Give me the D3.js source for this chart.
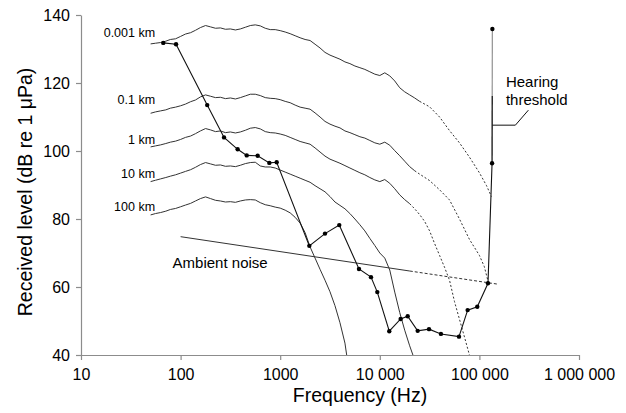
<!DOCTYPE html>
<html>
<head>
<meta charset="utf-8">
<script src="https://cdn.jsdelivr.net/npm/d3@7"></script>
<style>
  body { margin: 0; background: #fff; }
  svg { display: block; font-family: Arial, "Liberation Sans", sans-serif; }
</style>
</head>
<body>
<svg id="chart"></svg>
<script>
// ---- data ----
const yTicks = [40, 60, 80, 100, 120, 140];
const xTicks = [10, 100, 1000, 10000, 100000, 1000000];
const xTickLabels = ["10", "100", "1000", "10 000", "100 000", "1 000 000"];

// common frequency grid for the measured spectra (Hz)
const specFreq = [50, 56, 63, 71, 79, 89, 100, 112, 126, 141, 158, 178, 200, 224, 251, 282, 316, 355, 398, 447,
  501, 562, 631, 708, 794, 891, 1000, 1122, 1259, 1413, 1585, 1778, 1995, 2239, 2512, 2818, 3162, 3548, 3981, 4467,
  5012, 5623, 6310, 7079, 7943, 8913, 10000, 11220, 12589, 14125, 15849, 17783, 19953, 22387, 25119];

const seriesNames = ["0.001 km", "0.1 km", "1 km", "10 km", "100 km"];

const level0001 = [131.5, 131.7, 131.9, 132.3, 132.8, 133.0, 133.7, 134.4, 134.8, 135.5, 136.3, 136.9, 136.5, 136.1, 136.2, 135.8, 135.9, 135.6, 135.9, 136.4,
  136.9, 137.1, 136.8, 136.1, 135.7, 135.7, 135.4, 135.0, 134.5, 133.9, 133.3, 132.8, 132.5, 131.4, 130.3, 129.0, 128.2, 127.6, 127.0, 126.2,
  125.7, 125.0, 124.5, 124.0, 123.3, 122.6, 122.2, 123.0, 122.1, 120.6, 118.6, 117.4, 116.5, 115.6, 114.6];
const tailFreq0001 = [25119, 31623, 39811, 50119, 63096, 79433, 100000, 118000, 132000];
const tailLevel0001 = [114.6, 113.0, 110.0, 106.0, 102.4, 98.2, 93.6, 89.8, 86.6];

const level01 = [111.1, 111.5, 111.8, 112.1, 112.6, 112.9, 113.3, 113.8, 114.5, 115.0, 115.9, 116.5, 116.1, 115.7, 115.8, 115.4, 115.6, 115.3, 115.7, 116.2,
  116.7, 116.7, 116.3, 115.7, 115.5, 115.4, 115.1, 114.6, 114.2, 113.5, 112.9, 112.6, 112.3, 111.2, 110.0, 108.7, 107.9, 107.3, 106.8, 105.9,
  105.4, 104.8, 104.2, 103.8, 103.1, 102.4, 102.0, 102.6, 101.7, 100.1, 98.6, 97.0, 95.4, 94.2];
const tailFreq01 = [22387, 25119, 31623, 39811, 50119, 63096, 79433, 100000, 112000, 122800];
const tailLevel01 = [94.2, 93.2, 91.3, 88.6, 85.6, 80.0, 74.0, 69.3, 66.0, 61.4];

const level1 = [101.2, 101.5, 101.8, 102.2, 102.6, 102.9, 103.4, 104.0, 104.4, 105.1, 105.9, 106.6, 106.2, 105.7, 105.9, 105.4, 105.6, 105.3, 105.6, 106.1,
  106.7, 106.9, 106.5, 105.7, 105.4, 105.3, 105.0, 104.6, 104.0, 103.4, 102.8, 102.4, 102.0, 100.9, 99.7, 98.5, 97.6, 97.0, 96.4, 95.7,
  95.0, 94.3, 93.6, 93.0, 92.2, 91.5, 91.0, 91.6, 90.5, 88.9, 87.1, 85.7, 84.5];
const tailFreq1 = [19953, 22387, 25119, 28184, 31623, 35481, 39811, 44668, 50119, 56234, 63096, 70795, 79433];
const tailLevel1 = [84.5, 83.0, 81.3, 79.3, 76.5, 72.8, 69.3, 65.8, 62.0, 55.7, 50.5, 45.3, 40.0];

const level10 = [91.0, 91.4, 91.8, 92.2, 92.6, 93.0, 93.5, 94.0, 94.5, 95.2, 96.0, 96.6, 96.2, 95.8, 95.9, 95.5, 95.6, 95.4, 95.8, 96.3,
  96.6, 96.7, 95.6, 95.3, 95.3, 95.0, 94.4, 93.8, 93.2, 92.6, 92.0, 91.4, 90.8, 89.8, 88.9, 88.0, 86.6, 85.0, 84.0, 83.0,
  81.6, 80.0, 78.3, 76.5, 74.3, 72.2, 70.0, 68.5, 65.0, 58.5, 52.5, 47.3, 42.7];
const tailFreq10 = [19953, 21500];
const tailLevel10 = [42.7, 40.0];

const level100 = [81.2, 81.6, 81.9, 82.3, 82.8, 83.1, 83.6, 84.1, 84.6, 85.3, 86.0, 86.5, 86.0, 85.5, 85.3, 85.0, 85.1, 84.9, 85.3, 85.6,
  85.7, 85.6, 84.8, 84.2, 83.9, 83.5, 83.2, 82.6, 81.8, 80.5, 78.8, 76.0, 71.8, 68.5, 65.2, 62.0, 58.6, 54.5, 49.5, 43.5];
const tailFreq100 = [4467, 4650];
const tailLevel100 = [43.5, 40.0];

// hearing threshold (audiogram)
const thrFreq = [67, 90, 185, 273, 374, 461, 594, 778, 922, 1960, 2818, 3918, 6180, 8160, 9440, 12450, 16200, 19050,
  24000, 31200, 41100, 62400, 76200, 95200, 122000, 134000, 135000];
const thrLevel = [131.8, 131.4, 113.5, 104.0, 100.5, 98.7, 98.6, 96.5, 96.7, 72.1, 75.7, 78.2, 65.3, 62.9, 58.5, 47.0, 50.6, 51.4,
  47.1, 47.6, 46.2, 45.4, 53.2, 54.2, 61.1, 96.4, 135.9];

// ambient noise
const ambientFreq = [100, 20000, 156000];
const ambientLevel = [74.8, 64.7, 60.8];

// ---- chart ----
const width = 626;
const height = 413;
const margin = {top: 15, right: 47, bottom: 58, left: 81};
const font = "Arial, 'Liberation Sans', sans-serif";

const svg = d3.select("#chart")
    .attr("width", width)
    .attr("height", height);

const x = d3.scaleLog()
    .domain([10, 1000000])
    .range([margin.left, width - margin.right]);
const y = d3.scaleLinear()
    .domain([40, 140])
    .range([height - margin.bottom, margin.top]);

const axisColor = "#8c8c8c";

const axis_y = svg.append("g")
    .attr("transform", `translate(${margin.left},0)`)
    .call(d3.axisLeft(y).tickValues(yTicks).tickSize(5).tickPadding(6).tickSizeOuter(0))
    .attr("font-family", font)
    .attr("font-size", 16);
axis_y.select(".domain").attr("stroke", axisColor).attr("stroke-width", 1.2);
axis_y.selectAll(".tick line").attr("stroke", axisColor).attr("stroke-width", 1.2);
axis_y.selectAll(".tick text").attr("fill", "#000");

const axis_x = svg.append("g")
    .attr("transform", `translate(0,${height - margin.bottom})`)
    .call(d3.axisBottom(x).tickValues(xTicks).tickFormat((d, i) => xTickLabels[i])
        .tickSize(5).tickPadding(9).tickSizeOuter(0))
    .attr("font-family", font)
    .attr("font-size", 16);
axis_x.select(".domain").attr("stroke", axisColor).attr("stroke-width", 1.2);
axis_x.selectAll(".tick line").attr("stroke", axisColor).attr("stroke-width", 1.2);
axis_x.selectAll(".tick text").attr("fill", "#000");

svg.append("text")
    .attr("x", (x(10) + x(1000000)) / 2 + 30)
    .attr("y", 402)
    .attr("text-anchor", "middle")
    .attr("font-family", font)
    .attr("font-size", 19.5)
    .text("Frequency (Hz)");

svg.append("text")
    .attr("transform", "translate(32,192) rotate(-90)")
    .attr("text-anchor", "middle")
    .attr("font-family", font)
    .attr("font-size", 19.5)
    .text("Received level (dB re 1 μPa)");

// spectra
const line = d3.line()
    .x(d => x(d[0]))
    .y(d => y(d[1]));

const series = [
  {name: seriesNames[0], level: level0001, tf: tailFreq0001, tl: tailLevel0001, dotted: true},
  {name: seriesNames[1], level: level01, tf: tailFreq01, tl: tailLevel01, dotted: true},
  {name: seriesNames[2], level: level1, tf: tailFreq1, tl: tailLevel1, dotted: true},
  {name: seriesNames[3], level: level10, tf: tailFreq10, tl: tailLevel10, dotted: false},
  {name: seriesNames[4], level: level100, tf: tailFreq100, tl: tailLevel100, dotted: false}
];
const labelNudge = [-6.5, -9, -3, -3.5, -3.5];

const spectra = svg.append("g").attr("fill", "none").attr("stroke", "#333").attr("stroke-width", 1);
series.forEach((s, i) => {
  const solid = s.level.map((v, j) => [specFreq[j], v]);
  const tail = s.tf.map((f, j) => [f, s.tl[j]]);
  spectra.append("path").attr("d", line(solid));
  spectra.append("path").attr("d", line(tail))
      .attr("stroke-dasharray", s.dotted ? "2,2" : null);
  svg.append("text")
      .attr("x", x(specFreq[0]) + 4.5)
      .attr("y", y(s.level[0]) + labelNudge[i])
      .attr("text-anchor", "end")
      .attr("font-family", font)
      .attr("font-size", 12.5)
      .text(s.name);
});

// ambient noise
const amb = ambientFreq.map((f, i) => [f, ambientLevel[i]]);
svg.append("path")
    .attr("d", line(amb.slice(0, 2)))
    .attr("fill", "none").attr("stroke", "#333").attr("stroke-width", 1);
svg.append("path")
    .attr("d", line(amb.slice(1)))
    .attr("fill", "none").attr("stroke", "#333").attr("stroke-width", 1)
    .attr("stroke-dasharray", "3,2");
svg.append("text")
    .attr("x", x(ambientFreq[0]) - 8)
    .attr("y", y(65.6))
    .attr("font-family", font)
    .attr("font-size", 15)
    .text("Ambient noise");

// hearing threshold
const thr = thrFreq.map((f, i) => [f, thrLevel[i]]);
const n = thr.length;
const grad = svg.append("defs").append("linearGradient")
    .attr("id", "thrGrad")
    .attr("gradientUnits", "userSpaceOnUse")
    .attr("x1", 0).attr("x2", 0)
    .attr("y1", y(thrLevel[n - 1])).attr("y2", y(thrLevel[n - 2]));
grad.append("stop").attr("offset", 0).attr("stop-color", "#9a9a9a");
grad.append("stop").attr("offset", 0.5).attr("stop-color", "#9a9a9a");
grad.append("stop").attr("offset", 0.5).attr("stop-color", "#111");
grad.append("stop").attr("offset", 1).attr("stop-color", "#111");

svg.append("path")
    .attr("d", line(thr.slice(0, n - 1)))
    .attr("fill", "none").attr("stroke", "#111").attr("stroke-width", 1.1);
svg.append("path")
    .attr("d", line(thr.slice(n - 2)))
    .attr("fill", "none").attr("stroke", "url(#thrGrad)").attr("stroke-width", 1.3);
svg.append("g")
    .selectAll("circle")
    .data(thr)
    .join("circle")
        .attr("cx", d => x(d[0]))
        .attr("cy", d => y(d[1]))
        .attr("r", 2.2)
        .attr("fill", "#000");

// threshold label with leader
const lx = x(thrFreq[n - 1]);
const ly = y(107.6);
svg.append("path")
    .attr("d", `M${lx},${ly}H${lx + 23}L${lx + 36},${ly - 15}`)
    .attr("fill", "none").attr("stroke", "#111").attr("stroke-width", 1);
svg.append("text")
    .attr("x", lx + 13.5).attr("y", 87)
    .attr("font-family", font).attr("font-size", 15)
    .text("Hearing");
svg.append("text")
    .attr("x", lx + 13.5).attr("y", 105)
    .attr("font-family", font).attr("font-size", 15)
    .text("threshold");
</script>
</body>
</html>
